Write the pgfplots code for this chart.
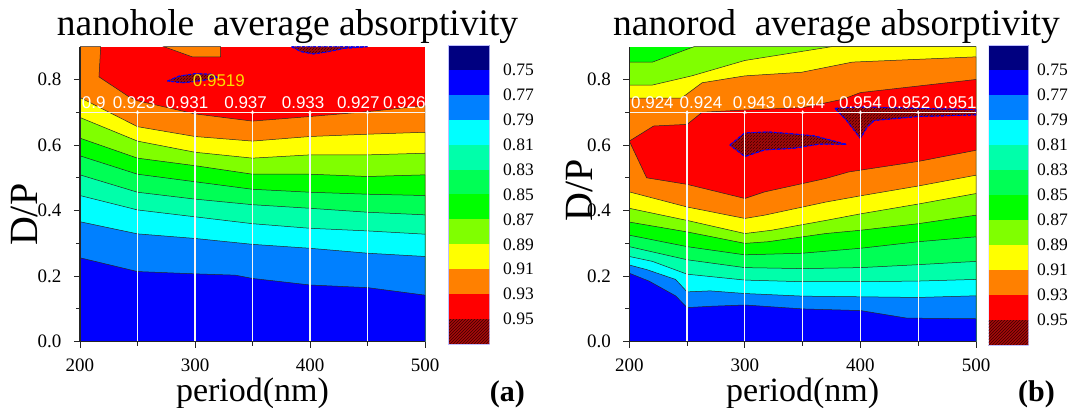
\documentclass[border=0pt]{standalone}
\usepackage{fontspec}
\setmainfont{Liberation Serif}
\newfontfamily\arialf{Liberation Sans}
\usepackage{pgfplots}
\pgfplotsset{compat=1.18}
\usetikzlibrary{patterns}

\definecolor{cNavy}{RGB}{0,0,128}
\definecolor{cBlue}{RGB}{0,0,255}
\definecolor{cMid}{RGB}{0,128,255}
\definecolor{cCyan}{RGB}{0,255,255}
\definecolor{cAqua}{RGB}{0,255,170}
\definecolor{cSpring}{RGB}{0,255,85}
\definecolor{cGreen}{RGB}{0,255,0}
\definecolor{cChart}{RGB}{128,255,0}
\definecolor{cYellow}{RGB}{255,255,0}
\definecolor{cOrange}{RGB}{255,128,0}
\definecolor{cRed}{RGB}{255,0,0}
\definecolor{cHbg}{RGB}{165,10,10}
\definecolor{cHfg}{RGB}{60,0,0}
\definecolor{cGold}{RGB}{250,222,0}

\tikzset{
  vlab/.style={font=\arialf\fontsize{17}{18}\selectfont, text=white, anchor=base, inner sep=0pt},
}
\pgfplotsset{
  panel/.style={
    scale only axis, height=295pt,
    xmin=200, xmax=500, ymin=0, ymax=0.9,
    axis x line*=bottom, axis y line*=left,
    axis line style={line width=1.1pt, black!85},
    tick style={line width=1pt, black!85},
    tick align=outside, major tick length=6pt, minor tick length=4pt,
    xtick={200,300,400,500}, xticklabels={200,300,400,500},
    minor xtick={250,350,450},
    ytick={0,0.2,0.4,0.6,0.8}, yticklabels={0.0,0.2,0.4,0.6,0.8},
    minor ytick={0.1,0.3,0.5,0.7},
    ticklabel style={font=\fontsize{19}{20}\selectfont},
    xticklabel style={yshift=-8pt},
    yticklabel style={xshift=-9pt},
    axis on top,
    xlabel={period(nm)},
    xlabel style={at={(axis description cs:0.5,0)}, anchor=base, yshift=-59.5pt, font=\fontsize{34}{36}\selectfont},
    ylabel={D/P},
    ylabel style={anchor=center, font=\fontsize{40}{44}\selectfont},
  },
  cline/.style={draw=black!85, line width=0.5pt},
  hatch/.style={fill=cHbg, postaction={pattern=north east lines, pattern color=cHfg}, draw=blue, densely dashdotted, line width=0.9pt},
  wline/.style={draw=white!92!gray, line width=1.2pt},
  wmark/.style={only marks, mark=triangle*, mark size=1.6pt, white},
  cbar/.style={
    scale only axis, xmin=0, xmax=1, ymin=0, ymax=12,
    hide x axis, axis y line*=right,
    axis line style={draw=none}, major tick length=0pt,
    ytick={1,2,3,4,5,6,7,8,9,10,11},
    yticklabels={0.95,0.93,0.91,0.89,0.87,0.85,0.83,0.81,0.79,0.77,0.75},
    yticklabel style={font=\fontsize{17.5}{18}\selectfont, anchor=west, inner sep=0pt},
  },
}

\begin{document}
\begin{tikzpicture}
\useasboundingbox (0,0) rectangle (1070pt,407pt);

% ---------------- panel (a) ----------------
\begin{axis}[panel, at={(80pt,65.3pt)}, anchor=south west, width=345pt,
  ylabel style={at={(axis description cs:-0.162,0.43)}}]
\addplot[fill=cRed, draw=none] coordinates {(200,0) (200,0.9) (500,0.9) (500,0)} -- cycle;
\addplot[fill=cOrange, cline] coordinates {(200,0) (200,0.9) (218,0.9) (216.5,0.808) (242.6,0.747) (250,0.735) (300,0.695) (350,0.673) (400,0.687) (450,0.702) (500,0.72) (500,0)} -- cycle;
\addplot[fill=cOrange, cline] coordinates {(273,0.9) (297.7,0.869) (322.3,0.869) (322.3,0.9)} -- cycle;
\addplot[fill=cYellow, cline] coordinates {(200,0.745) (250,0.656) (300,0.626) (350,0.612) (400,0.626) (450,0.633) (500,0.639)} \closedcycle;
\addplot[fill=cChart, cline] coordinates {(200,0.684) (250,0.612) (300,0.578) (350,0.560) (400,0.570) (450,0.570) (500,0.575)} \closedcycle;
\addplot[fill=cGreen, cline] coordinates {(200,0.621) (250,0.560) (300,0.537) (350,0.511) (400,0.511) (450,0.504) (500,0.509)} \closedcycle;
\addplot[fill=cSpring, cline] coordinates {(200,0.567) (250,0.511) (300,0.488) (350,0.465) (400,0.456) (450,0.450) (500,0.446)} \closedcycle;
\addplot[fill=cAqua, cline] coordinates {(200,0.509) (250,0.456) (300,0.435) (350,0.418) (400,0.407) (450,0.395) (500,0.387)} \closedcycle;
\addplot[fill=cCyan, cline] coordinates {(200,0.446) (250,0.402) (300,0.381) (350,0.360) (400,0.346) (450,0.338) (500,0.328)} \closedcycle;
\addplot[fill=cMid, cline] coordinates {(200,0.366) (250,0.329) (300,0.315) (350,0.297) (400,0.285) (450,0.270) (500,0.260)} \closedcycle;
\addplot[fill=cBlue, cline] coordinates {(200,0.256) (250,0.214) (300,0.207) (335,0.203) (350,0.193) (400,0.173) (450,0.165) (500,0.142)} \closedcycle;
% regions above 0.95
\addplot[hatch] coordinates {(276,0.795) (286,0.81) (300,0.818) (314,0.816) (320,0.806) (306,0.797) (290,0.79)} -- cycle;
\addplot[hatch] coordinates {(384,0.9) (392,0.885) (403,0.878) (415,0.884) (430,0.895) (450,0.9)} -- cycle;
% white guide lines
\addplot[wline] coordinates {(250,0) (250,0.7)};
\addplot[wline] coordinates {(300,0) (300,0.7)};
\addplot[wline] coordinates {(350,0) (350,0.7)};
\addplot[wline] coordinates {(400,0) (400,0.7)};
\addplot[wline] coordinates {(450,0) (450,0.7)};
\addplot[wline] coordinates {(200,0.7) (500,0.7)};
\addplot[wmark] coordinates {(250,0.7) (300,0.7) (350,0.7) (400,0.7) (450,0.7)};
\node[vlab] at (axis cs:212,0.712) {0.9};
\node[vlab] at (axis cs:247,0.712) {0.923};
\node[vlab] at (axis cs:293,0.712) {0.931};
\node[vlab] at (axis cs:344,0.712) {0.937};
\node[vlab] at (axis cs:394,0.712) {0.933};
\node[vlab] at (axis cs:442,0.712) {0.927};
\node[vlab] at (axis cs:482,0.712) {0.926};
\node[font=\arialf\fontsize{17}{18}\selectfont, text=cGold, anchor=base west, inner sep=0pt] at (axis cs:298,0.78) {0.9519};
\end{axis}

% colorbar (a)
\begin{axis}[cbar, at={(448pt,63pt)}, anchor=south west, width=41.5pt, height=299pt,
  yticklabel style={xshift=13.5pt}]
\addplot[fill=cNavy, draw=none] coordinates {(0,11) (1,11) (1,12) (0,12)} -- cycle;
\addplot[fill=cBlue, draw=none] coordinates {(0,10) (1,10) (1,11) (0,11)} -- cycle;
\addplot[fill=cMid, draw=none] coordinates {(0,9) (1,9) (1,10) (0,10)} -- cycle;
\addplot[fill=cCyan, draw=none] coordinates {(0,8) (1,8) (1,9) (0,9)} -- cycle;
\addplot[fill=cAqua, draw=none] coordinates {(0,7) (1,7) (1,8) (0,8)} -- cycle;
\addplot[fill=cSpring, draw=none] coordinates {(0,6) (1,6) (1,7) (0,7)} -- cycle;
\addplot[fill=cGreen, draw=none] coordinates {(0,5) (1,5) (1,6) (0,6)} -- cycle;
\addplot[fill=cChart, draw=none] coordinates {(0,4) (1,4) (1,5) (0,5)} -- cycle;
\addplot[fill=cYellow, draw=none] coordinates {(0,3) (1,3) (1,4) (0,4)} -- cycle;
\addplot[fill=cOrange, draw=none] coordinates {(0,2) (1,2) (1,3) (0,3)} -- cycle;
\addplot[fill=cRed, draw=none] coordinates {(0,1) (1,1) (1,2) (0,2)} -- cycle;
\addplot[fill=cHbg, draw=none, postaction={pattern=north east lines, pattern color=cHfg}] coordinates {(0,0) (1,0) (1,1) (0,1)} -- cycle;
\addplot[draw=blue!25, line width=0.6pt] coordinates {(0,0) (1,0) (1,12) (0,12)} -- cycle;
\end{axis}

% ---------------- panel (b) ----------------
\begin{axis}[panel, at={(629.3pt,65.3pt)}, anchor=south west, width=346.7pt,
  ylabel style={at={(axis description cs:-0.144,0.514)}}]
\addplot[fill=cGreen, draw=none] coordinates {(200,0) (200,0.9) (500,0.9) (500,0)} -- cycle;
\addplot[fill=cChart, cline] coordinates {(200,0) (200,0.853) (220,0.853) (256,0.9) (500,0.9) (500,0)} -- cycle;
\addplot[fill=cYellow, cline] coordinates {(200,0) (200,0.783) (220,0.783) (254,0.811) (300,0.858) (375,0.9) (500,0.9) (500,0)} -- cycle;
\addplot[fill=cOrange, cline] coordinates {(200,0) (200,0.743) (245,0.743) (263,0.79) (300,0.811) (349,0.822) (393,0.853) (500,0.869) (500,0)} -- cycle;
\addplot[fill=cRed, cline] coordinates {(200,0.612) (221,0.658) (250,0.663) (263,0.700) (300,0.707) (350,0.714) (385,0.740) (400,0.760) (450,0.780) (500,0.80) (500,0.584) (450,0.55) (390,0.518) (370,0.498) (317,0.457) (300,0.437) (250,0.48) (215,0.50)} -- cycle;
\addplot[fill=cYellow, cline] coordinates {(200,0.457) (250,0.411) (300,0.376) (317,0.386) (370,0.426) (400,0.445) (450,0.475) (500,0.508)} \closedcycle;
\addplot[fill=cChart, cline] coordinates {(200,0.407) (250,0.37) (300,0.33) (323,0.34) (370,0.37) (400,0.39) (450,0.42) (500,0.452)} \closedcycle;
\addplot[fill=cGreen, cline] coordinates {(200,0.365) (250,0.335) (300,0.30) (320,0.305) (370,0.33) (400,0.34) (450,0.36) (500,0.386)} \closedcycle;
\addplot[fill=cSpring, cline] coordinates {(200,0.325) (250,0.29) (300,0.265) (350,0.27) (400,0.285) (450,0.305) (500,0.32)} \closedcycle;
\addplot[fill=cAqua, cline] coordinates {(200,0.29) (250,0.25) (300,0.226) (350,0.223) (400,0.226) (450,0.235) (500,0.245)} \closedcycle;
\addplot[fill=cCyan, cline] coordinates {(200,0.26) (220,0.245) (250,0.206) (300,0.188) (350,0.183) (400,0.183) (450,0.185) (500,0.19)} \closedcycle;
\addplot[fill=cMid, cline] coordinates {(200,0.234) (215,0.22) (240,0.19) (250,0.152) (270,0.155) (300,0.147) (350,0.139) (400,0.137) (450,0.135) (500,0.14)} \closedcycle;
\addplot[fill=cBlue, cline] coordinates {(200,0.209) (217,0.185) (240,0.14) (250,0.104) (270,0.108) (300,0.112) (350,0.1) (400,0.095) (440,0.072) (500,0.07)} \closedcycle;
% regions above 0.95
\addplot[hatch] coordinates {(287,0.600) (300,0.637) (320,0.640) (342,0.634) (360,0.628) (388,0.602) (365,0.603) (342,0.590) (317,0.585) (300,0.565)} -- cycle;
\addplot[hatch] coordinates {(378,0.712) (388,0.675) (400,0.62) (406,0.656) (412,0.675) (450,0.687) (500,0.692) (500,0.708) (450,0.712) (400,0.716)} -- cycle;
% white guide lines
\addplot[wline] coordinates {(250,0) (250,0.7)};
\addplot[wline] coordinates {(300,0) (300,0.7)};
\addplot[wline] coordinates {(350,0) (350,0.7)};
\addplot[wline] coordinates {(400,0) (400,0.7)};
\addplot[wline] coordinates {(450,0) (450,0.7)};
\addplot[wline] coordinates {(200,0.7) (500,0.7)};
\addplot[wmark] coordinates {(250,0.7) (300,0.7) (350,0.7) (400,0.7) (450,0.7)};
\node[vlab] at (axis cs:220,0.712) {0.924};
\node[vlab] at (axis cs:262,0.712) {0.924};
\node[vlab] at (axis cs:308,0.712) {0.943};
\node[vlab] at (axis cs:351,0.712) {0.944};
\node[vlab] at (axis cs:400,0.712) {0.954};
\node[vlab] at (axis cs:442,0.712) {0.952};
\node[vlab] at (axis cs:482,0.712) {0.951};
\end{axis}

% colorbar (b)
\begin{axis}[cbar, at={(988.5pt,62pt)}, anchor=south west, width=40pt, height=300pt,
  yticklabel style={xshift=8.5pt}]
\addplot[fill=cNavy, draw=none] coordinates {(0,11) (1,11) (1,12) (0,12)} -- cycle;
\addplot[fill=cBlue, draw=none] coordinates {(0,10) (1,10) (1,11) (0,11)} -- cycle;
\addplot[fill=cMid, draw=none] coordinates {(0,9) (1,9) (1,10) (0,10)} -- cycle;
\addplot[fill=cCyan, draw=none] coordinates {(0,8) (1,8) (1,9) (0,9)} -- cycle;
\addplot[fill=cAqua, draw=none] coordinates {(0,7) (1,7) (1,8) (0,8)} -- cycle;
\addplot[fill=cSpring, draw=none] coordinates {(0,6) (1,6) (1,7) (0,7)} -- cycle;
\addplot[fill=cGreen, draw=none] coordinates {(0,5) (1,5) (1,6) (0,6)} -- cycle;
\addplot[fill=cChart, draw=none] coordinates {(0,4) (1,4) (1,5) (0,5)} -- cycle;
\addplot[fill=cYellow, draw=none] coordinates {(0,3) (1,3) (1,4) (0,4)} -- cycle;
\addplot[fill=cOrange, draw=none] coordinates {(0,2) (1,2) (1,3) (0,3)} -- cycle;
\addplot[fill=cRed, draw=none] coordinates {(0,1) (1,1) (1,2) (0,2)} -- cycle;
\addplot[fill=cHbg, draw=none, postaction={pattern=north east lines, pattern color=cHfg}] coordinates {(0,0) (1,0) (1,1) (0,1)} -- cycle;
\addplot[draw=blue!25, line width=0.6pt] coordinates {(0,0) (1,0) (1,12) (0,12)} -- cycle;
\end{axis}

% titles and panel letters
\node[anchor=base, inner sep=0pt, font=\fontsize{37.5}{40}\selectfont] at (287.5pt,371pt) {nanohole\ \ average absorptivity};
\node[anchor=base, inner sep=0pt, font=\fontsize{37.5}{40}\selectfont] at (836.5pt,371pt) {nanorod\ \ average absorptivity};
\node[anchor=base east, inner sep=0pt, font=\bfseries\fontsize{30}{32}\selectfont] at (525pt,6pt) {(a)};
\node[anchor=base east, inner sep=0pt, font=\bfseries\fontsize{30}{32}\selectfont] at (1055pt,6pt) {(b)};
\end{tikzpicture}
\end{document}
